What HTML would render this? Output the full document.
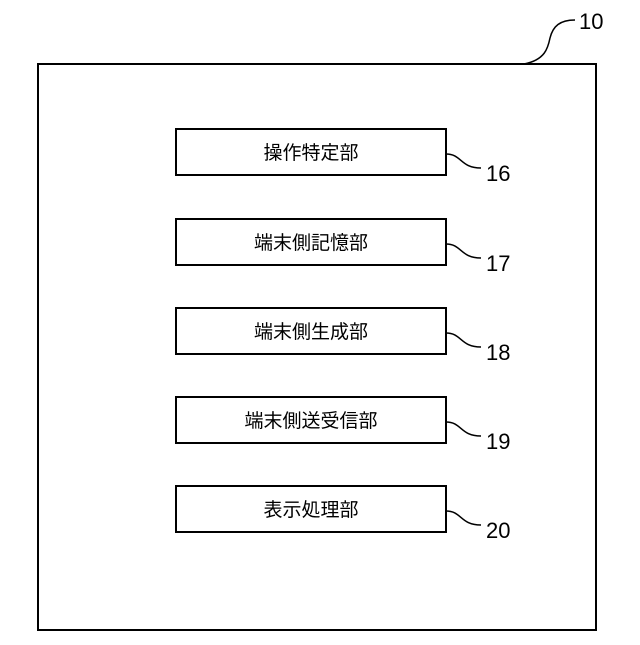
<!DOCTYPE html>
<html><head><meta charset="utf-8"><style>
body{margin:0;background:#fff}
svg text{font-family:"Liberation Sans","Noto Sans CJK JP",sans-serif;fill:#000}
</style></head><body>
<svg width="640" height="640" xmlns="http://www.w3.org/2000/svg">
<rect x="38" y="64" width="558" height="566" fill="none" stroke="#000" stroke-width="2"/>
<path d="M524 64 C545 60 548 48 550 38 C553 26 560 20 575 20" fill="none" stroke="#000" stroke-width="1.5"/>
<text x="579" y="29" font-size="22">10</text>
<g fill="none" stroke="#000" stroke-width="2">
<rect x="176" y="129" width="270" height="46"/>
<rect x="176" y="219" width="270" height="46"/>
<rect x="176" y="308" width="270" height="46"/>
<rect x="176" y="397" width="270" height="46"/>
<rect x="176" y="486" width="270" height="46"/>
</g>
<g fill="none" stroke="#000" stroke-width="1.5">
<path d="M446 154 C462 154 460 168 481 168"/>
<path d="M446 244 C462 244 460 258 481 258"/>
<path d="M446 333 C462 333 460 347 481 347"/>
<path d="M446 422 C462 422 460 436 481 436"/>
<path d="M446 511 C462 511 460 525 481 525"/>
</g>
<g font-size="22">
<text x="486" y="181">16</text>
<text x="486" y="271">17</text>
<text x="486" y="360">18</text>
<text x="486" y="449">19</text>
<text x="486" y="538">20</text>
</g>
<g font-size="19" text-anchor="middle">
<text x="311" y="159">操作特定部</text>
<text x="311" y="249">端末側記憶部</text>
<text x="311" y="338">端末側生成部</text>
<text x="311" y="427">端末側送受信部</text>
<text x="311" y="516">表示処理部</text>
</g>
</svg>
</body></html>
